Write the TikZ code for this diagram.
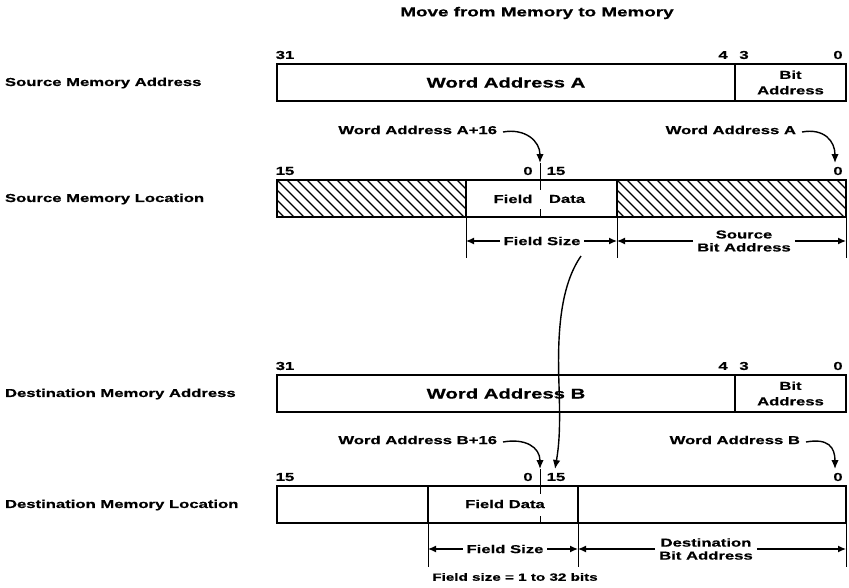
\documentclass[tikz,border=0pt]{standalone}
\usepackage{fontspec}
\setmainfont{Liberation Sans}[FakeStretch=1.45,FakeBold=0.6]
\usetikzlibrary{arrows.meta}
\begin{document}
\begin{tikzpicture}[x=1pt,y=-1pt,
  every node/.style={font=\fontsize{11.5}{12}\selectfont\bfseries, inner sep=0pt, outer sep=0pt},
  rowlbl/.style={anchor=west},
  bigtext/.style={font=\fontsize{14}{15}\selectfont\bfseries},
  field/.style={draw, line width=2.4pt, minimum height=37pt, anchor=north west, minimum width=#1},
  hatched/.style={path picture={
     \foreach \k in {-5,...,25}{
       \draw[line width=1.4pt] ([xshift=\k*10pt]path picture bounding box.north west) -- ++(45pt,-45pt);}}},
  thinline/.style={line width=1pt},
  dimarrow/.style={line width=1.3pt, -{Latex[length=8pt,width=7pt]}},
  curvarrow/.style={line width=1.4pt, -{Latex[length=9pt,width=7.5pt]}},
  twoline/.style={align=center, font=\fontsize{11.5}{15.5}\selectfont\bfseries}
]
\useasboundingbox (0,0) rectangle (849,587);

% title
\node[font=\fontsize{13}{14}\selectfont\bfseries] (title) at (537,13) {Move from Memory to Memory};

% row labels
\node[rowlbl] (l1) at (5,83) {Source Memory Address};
\node[rowlbl] (l2) at (5,199) {Source Memory Location};
\node[rowlbl] (l3) at (5,394) {Destination Memory Address};
\node[rowlbl] (l4) at (5,505) {Destination Memory Location};

% ---------- Source memory address ----------
\node (n31a) at (285,55) {31};
\node (n4a) at (723,55) {4};
\node (n3a) at (744,55) {3};
\node (n0a) at (838,55) {0};
\node[field=458pt, bigtext] (wA) at (277,64) {Word Address A};
\node[field=111pt] (bA) at (735,64) {};
\node[twoline] (bAt) at (790.5,82.5) {Bit\\Address};

% ---------- Source memory location ----------
\node (wA16) [anchor=east] at (497,130) {Word Address A+16};
\node (wAr) [anchor=east] at (796,130) {Word Address A};
\coordinate (tA16) at (540,163);
\coordinate (tA) at (835,163);
\draw[curvarrow] ([xshift=6pt,yshift=-2pt]wA16.east) .. controls +(22,-4) and +(0,-22) .. (tA16);
\draw[curvarrow] ([xshift=6pt,yshift=-2pt]wAr.east) .. controls +(22,-4) and +(0,-22) .. (tA);
\node (n15b) at (285,171) {15};
\node (n0b) at (528,171) {0};
\node (n15c) at (556,171) {15};
\node (n0c) at (838,171) {0};
\node[field=189pt, hatched] (hL) at (277,180) {};
\node[field=151pt] (fd1) at (466,180) {};
\node[field=229pt, hatched] (hR) at (617,180) {};
\node (fld1) at (513,199) {Field};
\node (dat1) at (567,199) {Data};
\coordinate (tk1a) at (540,190);
\coordinate (tk1b) at (540,209);
\coordinate (tk1c) at (540,217);
\draw[thinline] (tA16) -- (tk1a);
\draw[thinline] (tk1b) -- (tk1c);

% dimension lines row 2
\coordinate (v1t) at (466,217); \coordinate (v1b) at (466,258);
\coordinate (v2t) at (617,217); \coordinate (v2b) at (617,258);
\coordinate (v3t) at (846,217); \coordinate (v3b) at (846,258);
\draw[thinline] (v1t) -- (v1b);
\draw[thinline] (v2t) -- (v2b);
\draw[thinline] (v3t) -- (v3b);
\coordinate (a1) at (466,241); \coordinate (a2) at (617,241); \coordinate (a3) at (846,241);
\node (fs1) at (542,241) {Field Size};
\draw[dimarrow] ([xshift=-4pt]fs1.west) -- (a1);
\draw[dimarrow] ([xshift=4pt]fs1.east) -- (a2);
\node[twoline, font=\fontsize{11.5}{13}\selectfont\bfseries] (sba) at (744,241) {Source\\Bit Address};
\draw[dimarrow] ([xshift=-4pt]sba.west) -- (a2);
\draw[dimarrow] ([xshift=4pt]sba.east) -- (a3);

% ---------- Destination memory address ----------
\node (n31d) at (285,366) {31};
\node (n4d) at (723,366) {4};
\node (n3d) at (744,366) {3};
\node (n0d) at (838,366) {0};
\node[field=458pt, bigtext] (wB) at (277,375) {Word Address B};
\node[field=111pt] (bB) at (735,375) {};
\node[twoline] (bBt) at (790.5,393.5) {Bit\\Address};

% ---------- Destination memory location ----------
\node (wB16) [anchor=east] at (497,440) {Word Address B+16};
\node (wBr) [anchor=east] at (800,440) {Word Address B};
\coordinate (tB16) at (540,469);
\coordinate (tB) at (835,469);
\coordinate (tF) at (555,469);
\draw[curvarrow] ([xshift=6pt,yshift=-2pt]wB16.east) .. controls +(22,-4) and +(0,-22) .. (tB16);
\draw[curvarrow] ([xshift=6pt,yshift=-2pt]wBr.east) .. controls +(22,-4) and +(0,-22) .. (tB);
\node (n15e) at (285,477) {15};
\node (n0e) at (528,477) {0};
\node (n15f) at (556,477) {15};
\node (n0f) at (838,477) {0};
\node[field=151pt] (dL) at (277,486) {};
\node[field=150pt] (fd2) at (428,486) {};
\node[field=268pt] (dR) at (578,486) {};
\node (fdat2) at (505,504) {Field Data};
\coordinate (tk2a) at (540,494);
\coordinate (tk2b) at (540,516);
\coordinate (tk2c) at (540,523);
\draw[thinline] (tB16) -- (tk2a);
\draw[thinline] (tk2b) -- (tk2c);

% transfer curve
\coordinate (cs) at (581,256);
\draw[curvarrow] (cs) .. controls (561,285) and (557,330) .. (559,385) .. controls (560,420) and (560,440) .. (tF);

% dimension lines row 4
\coordinate (w1t) at (428,523); \coordinate (w1b) at (428,567);
\coordinate (w2t) at (578,523); \coordinate (w2b) at (578,567);
\coordinate (w3t) at (846,523); \coordinate (w3b) at (846,567);
\draw[thinline] (w1t) -- (w1b);
\draw[thinline] (w2t) -- (w2b);
\draw[thinline] (w3t) -- (w3b);
\coordinate (b1) at (428,549); \coordinate (b2) at (578,549); \coordinate (b3) at (846,549);
\node (fs2) at (505,549) {Field Size};
\draw[dimarrow] ([xshift=-4pt]fs2.west) -- (b1);
\draw[dimarrow] ([xshift=4pt]fs2.east) -- (b2);
\node[twoline, font=\fontsize{11.5}{13}\selectfont\bfseries] (dba) at (706,549) {Destination\\Bit Address};
\draw[dimarrow] ([xshift=-4pt]dba.west) -- (b2);
\draw[dimarrow] ([xshift=4pt]dba.east) -- (b3);

\node[font=\fontsize{10.5}{12}\selectfont\bfseries] (foot) at (515,577) {Field size = 1 to 32 bits};
\end{tikzpicture}
\end{document}
